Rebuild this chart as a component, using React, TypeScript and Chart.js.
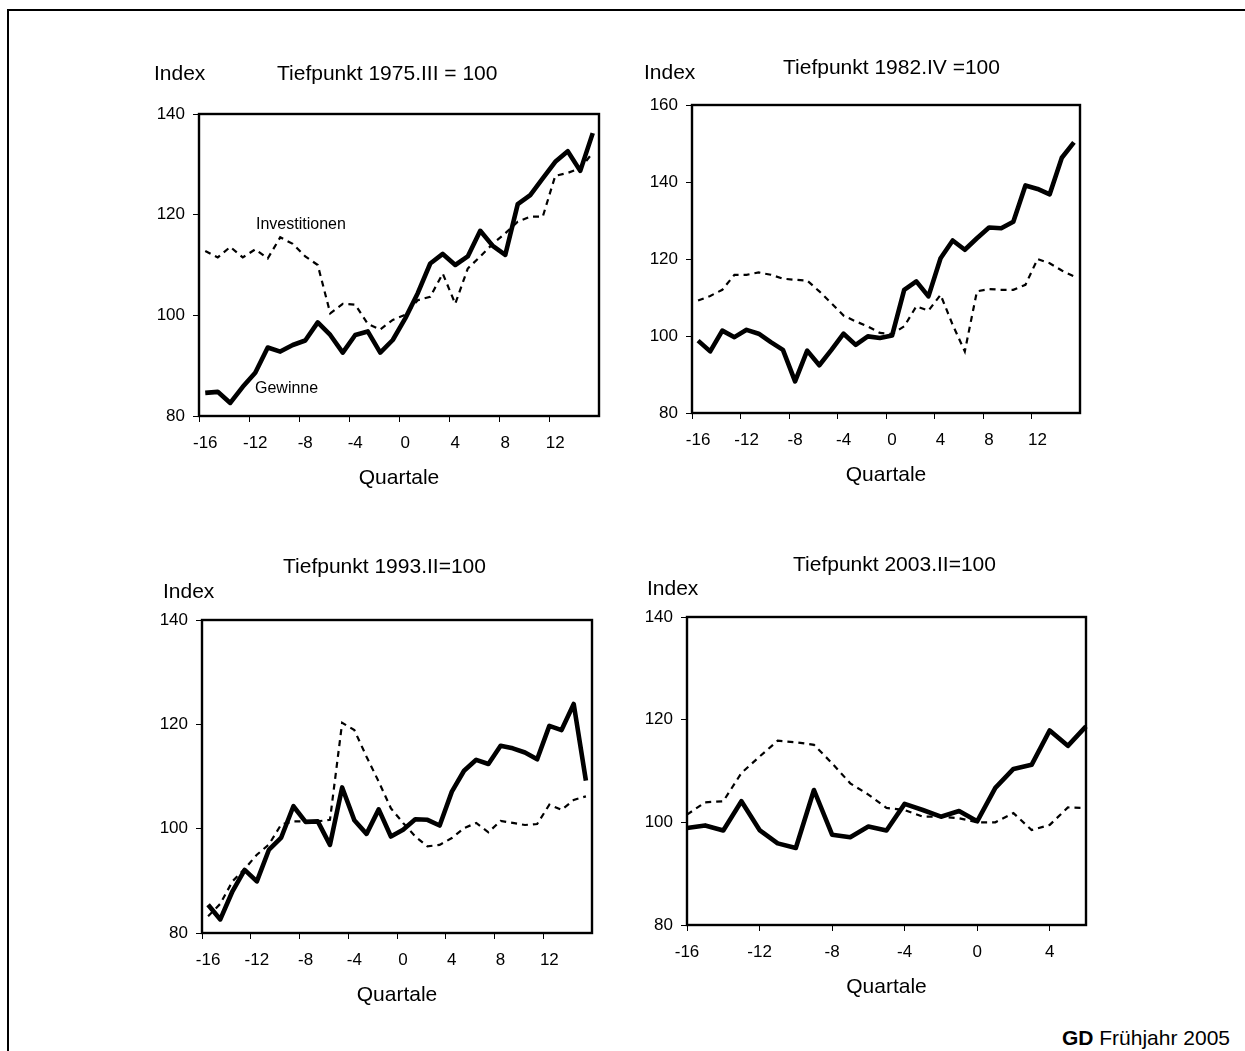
import React, { useEffect, useRef } from 'react';
import { Chart, registerables } from 'chart.js';

Chart.register(...registerables);

const FONT = '"Liberation Sans", Arial, Helvetica, sans-serif';

// ---- categories (quarters relative to trough) ----
const QUARTERS_32 = ['-16', '-15', '-14', '-13', '-12', '-11', '-10', '-9', '-8', '-7', '-6', '-5', '-4', '-3', '-2', '-1',
  '0', '1', '2', '3', '4', '5', '6', '7', '8', '9', '10', '11', '12', '13', '14', '15'];
const QUARTERS_23 = ['-16', '-15', '-14', '-13', '-12', '-11', '-10', '-9', '-8', '-7', '-6', '-5', '-4', '-3', '-2', '-1',
  '0', '1', '2', '3', '4', '5', '6'];

// ---- Tiefpunkt 1975.III = 100 ----
const GEWINNE_1975 = [84.6, 84.8, 82.6, 85.8, 88.6, 93.6, 92.8, 94.1, 95.0, 98.6, 96.1, 92.6, 96.1, 96.8, 92.6, 95.1,
  99.4, 104.4, 110.3, 112.2, 110.0, 111.7, 116.8, 113.8, 112.0, 122.1, 123.9, 127.2, 130.5, 132.6, 128.7, 136.2];
const INVEST_1975 = [112.8, 111.5, 113.6, 111.5, 113.1, 111.3, 115.5, 114.2, 111.7, 110.0, 100.4, 102.3, 102.1, 98.3, 97.2, 99.1,
  100.1, 103.0, 103.7, 108.3, 102.3, 109.3, 111.7, 114.2, 116.3, 118.6, 119.6, 119.6, 127.7, 128.3, 129.2, 132.3];

// ---- Tiefpunkt 1982.IV = 100 ----
const GEWINNE_1982 = [98.8, 96.0, 101.4, 99.7, 101.6, 100.6, 98.4, 96.4, 88.2, 96.2, 92.4, 96.4, 100.6, 97.7, 99.9, 99.5,
  100.1, 112.0, 114.2, 110.3, 120.2, 124.8, 122.4, 125.4, 128.2, 128.0, 129.7, 139.1, 138.2, 136.8, 146.3, 150.3];
const INVEST_1982 = [109.2, 110.4, 112.0, 115.9, 115.9, 116.5, 115.9, 114.9, 114.6, 114.4, 111.6, 108.5, 105.3, 103.8, 102.5, 100.8,
  100.5, 102.5, 107.7, 106.6, 110.7, 102.9, 96.0, 111.6, 112.2, 112.0, 112.0, 113.3, 120.0, 118.9, 117.0, 115.5];

// ---- Tiefpunkt 1993.II = 100 ----
const GEWINNE_1993 = [85.4, 82.6, 88.0, 92.1, 89.9, 96.0, 98.3, 104.3, 101.3, 101.4, 96.9, 107.9, 101.6, 99.0, 103.7, 98.5,
  99.8, 101.8, 101.7, 100.6, 107.1, 111.1, 113.2, 112.4, 115.9, 115.4, 114.6, 113.3, 119.7, 118.9, 123.9, 109.2];
const INVEST_1993 = [83.2, 85.6, 89.9, 92.3, 95.0, 97.0, 100.8, 101.4, 101.4, 101.4, 101.7, 120.3, 118.9, 113.8, 109.0, 103.9,
  101.1, 98.5, 96.6, 96.9, 98.2, 100.1, 101.1, 99.3, 101.5, 101.1, 100.7, 100.9, 104.6, 103.6, 105.5, 106.2];

// ---- Tiefpunkt 2003.II = 100 ----
const GEWINNE_2003 = [98.9, 99.4, 98.4, 104.1, 98.5, 95.9, 95.0, 106.3, 97.6, 97.1, 99.2, 98.4, 103.6, 102.4, 101.1, 102.2,
  100.2, 106.7, 110.4, 111.2, 117.9, 114.9, 118.7];
const INVEST_2003 = [101.5, 103.9, 104.1, 109.6, 112.8, 115.9, 115.6, 115.1, 111.5, 107.6, 105.4, 102.8, 102.4, 101.1, 101.1, 100.8,
  100.0, 100.0, 101.8, 98.5, 99.5, 102.9, 102.8];

const TITLES = ['Tiefpunkt 1975.III = 100', 'Tiefpunkt 1982.IV =100', 'Tiefpunkt 1993.II=100', 'Tiefpunkt 2003.II=100'];
const Y_MAX = [140, 160, 140, 140];

type PanelDef = {
  plot: [number, number, number, number]; // left, top, width, height (page px)
  labels: string[];
  gewinne: number[];
  invest: number[];
  yMax: number;
  offset: boolean;
  title: string;
  titlePos: [number, number];
  indexPos: [number, number];
  notes: { text: string; x: number; y: number }[];
};

const PANELS: PanelDef[] = [
  {
    plot: [199, 114, 400, 302], labels: QUARTERS_32, gewinne: GEWINNE_1975, invest: INVEST_1975,
    yMax: Y_MAX[0], offset: true, title: TITLES[0], titlePos: [277, 80], indexPos: [154, 80],
    notes: [{ text: 'Investitionen', x: 256, y: 229 }, { text: 'Gewinne', x: 255, y: 393 }],
  },
  {
    plot: [692, 105, 388, 308], labels: QUARTERS_32, gewinne: GEWINNE_1982, invest: INVEST_1982,
    yMax: Y_MAX[1], offset: true, title: TITLES[1], titlePos: [783, 74], indexPos: [644, 79], notes: [],
  },
  {
    plot: [202, 620, 390, 313], labels: QUARTERS_32, gewinne: GEWINNE_1993, invest: INVEST_1993,
    yMax: Y_MAX[2], offset: true, title: TITLES[2], titlePos: [283, 573], indexPos: [163, 598], notes: [],
  },
  {
    plot: [687, 617, 399, 308], labels: QUARTERS_23, gewinne: GEWINNE_2003, invest: INVEST_2003,
    yMax: Y_MAX[3], offset: false, title: TITLES[3], titlePos: [793, 571], indexPos: [647, 595], notes: [],
  },
];

const PAD_L = 30, AXIS_W = 50, PAD_T = 80, PAD_R = 30, AXIS_H = 50, PAD_B = 40;

function Panel({ p }: { p: PanelDef }) {
  const ref = useRef<HTMLCanvasElement>(null);
  const cl = p.plot[0] - PAD_L - AXIS_W;
  const ct = p.plot[1] - PAD_T;
  const cw = PAD_L + AXIS_W + p.plot[2] + PAD_R;
  const ch = PAD_T + p.plot[3] + AXIS_H + PAD_B;

  useEffect(() => {
    if (!ref.current) return;
    const decor = {
      id: 'decor',
      afterDraw(chart: any) {
        const { ctx, chartArea: a } = chart;
        ctx.save();
        ctx.strokeStyle = '#000';
        ctx.lineWidth = 2.4;
        ctx.strokeRect(a.left, a.top, a.right - a.left, a.bottom - a.top);
        ctx.fillStyle = '#000';
        ctx.textBaseline = 'alphabetic';
        ctx.textAlign = 'left';
        ctx.font = `21px ${FONT}`;
        ctx.fillText('Index', p.indexPos[0] - cl, p.indexPos[1] - ct);
        ctx.fillText(p.title, p.titlePos[0] - cl, p.titlePos[1] - ct);
        ctx.textAlign = 'center';
        ctx.fillText('Quartale', (a.left + a.right) / 2, a.bottom + 68);
        ctx.textAlign = 'left';
        ctx.font = `16px ${FONT}`;
        p.notes.forEach((n) => ctx.fillText(n.text, n.x - cl, n.y - ct));
        ctx.restore();
      },
    };
    const chart = new Chart(ref.current, {
      type: 'line',
      data: {
        labels: p.labels,
        datasets: [
          {
            label: 'Gewinne', data: p.gewinne, borderColor: '#000', borderWidth: 4.6,
            pointRadius: 0, tension: 0, fill: false, borderJoinStyle: 'round', borderCapStyle: 'butt',
          },
          {
            label: 'Investitionen', data: p.invest, borderColor: '#000', borderWidth: 2.2,
            borderDash: [6, 5], pointRadius: 0, tension: 0, fill: false,
          },
        ],
      },
      options: {
        responsive: false,
        animation: false,
        devicePixelRatio: 1,
        events: [],
        layout: { padding: { left: PAD_L, top: PAD_T, right: PAD_R, bottom: PAD_B } },
        plugins: { legend: { display: false }, tooltip: { enabled: false }, title: { display: false } },
        scales: {
          x: {
            type: 'category',
            offset: p.offset,
            grid: {
              offset: p.offset,
              drawOnChartArea: false,
              drawTicks: true,
              tickLength: 6,
              lineWidth: 1,
              tickColor: (c: any) => (c.index % 4 === 0 ? '#000' : 'rgba(0,0,0,0)'),
            },
            border: { display: false },
            ticks: {
              autoSkip: false,
              maxRotation: 0,
              minRotation: 0,
              padding: 11,
              color: '#000',
              font: { family: FONT, size: 17 },
              callback: (_v: any, i: number) => (i % 4 === 0 ? p.labels[i] : ''),
            },
            afterFit: (s: any) => { s.height = AXIS_H; },
          },
          y: {
            type: 'linear',
            min: 80,
            max: p.yMax,
            ticks: { stepSize: 20, padding: 8, color: '#000', font: { family: FONT, size: 17 } },
            grid: { drawOnChartArea: false, drawTicks: true, tickLength: 6, tickColor: '#000', lineWidth: 1 },
            border: { display: false },
            afterFit: (s: any) => { s.width = AXIS_W; },
          },
        },
      } as any,
      plugins: [decor],
    });
    return () => chart.destroy();
  }, []);

  return (
    <canvas
      ref={ref}
      width={cw}
      height={ch}
      style={{ position: 'absolute', left: cl, top: ct, width: cw, height: ch }}
    />
  );
}

export default function App() {
  return (
    <div
      style={{
        position: 'absolute', left: 0, top: 0, width: 1245, height: 1051,
        overflow: 'hidden', background: '#fff', fontFamily: FONT,
      }}
    >
      <div
        style={{
          position: 'absolute', left: 7, top: 9, width: 1400, height: 1200,
          borderLeft: '2px solid #000', borderTop: '2px solid #000',
        }}
      />
      {PANELS.map((p, i) => <Panel key={i} p={p} />)}
      <div
        style={{
          position: 'absolute', right: 15, top: 1027, fontSize: 21, lineHeight: '21px',
          color: '#000', whiteSpace: 'nowrap',
        }}
      >
        <b>GD</b> Frühjahr 2005
      </div>
    </div>
  );
}
